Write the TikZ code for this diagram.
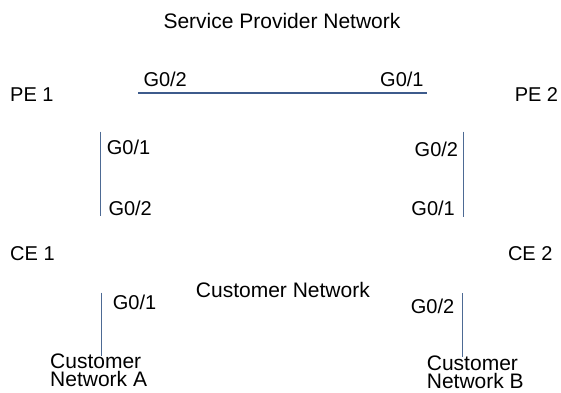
\documentclass[tikz,border=0pt]{standalone}
\usepackage{fontspec}
\setmainfont{Liberation Sans}
\definecolor{linkblue}{RGB}{61,91,140}
\definecolor{thinblue}{RGB}{77,106,148}
\begin{document}
\begin{tikzpicture}[x=1pt,y=-1pt,
  lbl/.style={inner sep=0pt,font=\fontsize{20}{24}\selectfont},
  big/.style={inner sep=0pt,font=\fontsize{21}{18}\selectfont,align=left},
  trunk/.style={draw=linkblue,line width=2pt},
  link/.style={draw=thinblue,line width=1pt}]
\useasboundingbox (0,0) rectangle (561,392);
% titles
\node[big,anchor=base west] (spn) at (163.3,28.3) {Service Provider Network};
\node[big,anchor=base east] (cn) at (370,297) {Customer Network};
% devices
\node[lbl,anchor=base west] (pe1) at (10,101.7) {PE 1};
\node[lbl,anchor=base east] (pe2) at (558.3,101.7) {PE 2};
\node[lbl,anchor=base west] (ce1) at (10,260) {CE 1};
\node[lbl,anchor=base east] (ce2) at (552.7,260) {CE 2};
\node[big,anchor=base west] (cna) at (50,386.5) {Customer\\Network A};
\node[big,anchor=base west] (cnb) at (426.7,388) {Customer\\Network B};
% interface labels
\node[lbl,anchor=base west] (p1g2) at (143.3,86.7) {G0/2};
\node[lbl,anchor=base west] (p2g1) at (380,86.7) {G0/1};
\node[lbl,anchor=base west] (p1g1) at (106.7,154) {G0/1};
\node[lbl,anchor=base west] (c1g2) at (108.3,215) {G0/2};
\node[lbl,anchor=base east] (p2g2) at (458.3,156.7) {G0/2};
\node[lbl,anchor=base east] (c2g1) at (455,215.7) {G0/1};
\node[lbl,anchor=base west] (c1g1) at (112.7,309) {G0/1};
\node[lbl,anchor=base west] (c2g2) at (410.7,313) {G0/2};
% link end points
\coordinate (tA) at (138.3,93.3);
\coordinate (tB) at (427.3,93.3);
\coordinate (lA) at (100.7,131.7);
\coordinate (lB) at (100.7,216);
\coordinate (rA) at (463.3,131.7);
\coordinate (rB) at (463.3,216.7);
\coordinate (aA) at (101,292.7);
\coordinate (aB) at (101,356);
\coordinate (bA) at (462.7,293.3);
\coordinate (bB) at (462.7,357.3);
% links
\draw[trunk] (tA) -- (tB);
\draw[link] (lA) -- (lB);
\draw[link] (rA) -- (rB);
\draw[link] (aA) -- (aB);
\draw[link] (bA) -- (bB);
\end{tikzpicture}
\end{document}
